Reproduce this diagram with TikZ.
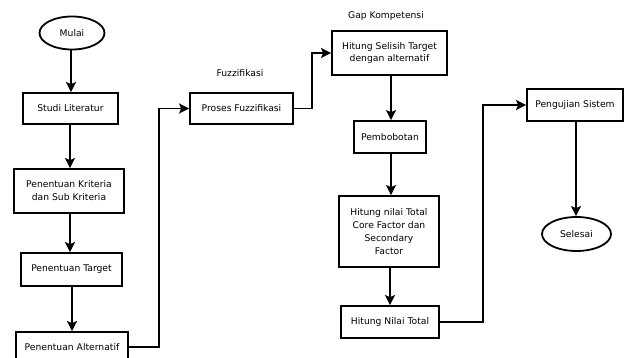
\documentclass[tikz,border=0pt]{standalone}
\usepackage{fontspec}
\setmainfont{DejaVu Sans}
\usetikzlibrary{shapes.geometric,arrows.meta,calc}
\begin{document}
\begin{tikzpicture}[x=1pt,y=-1pt,
  every node/.style={font=\fontsize{9.2}{12.9}\selectfont, align=center, inner sep=0pt},
  box/.style={draw, line width=1.8pt, rectangle},
  oval/.style={draw, line width=1.8pt, ellipse},
  arr/.style={line width=1.8pt, -{Stealth[length=10pt,width=10pt,inset=2pt]}}]
\clip (0,0) rectangle (624,358);
\useasboundingbox (0,0) rectangle (624,358);
\fill[white] (0,0) rectangle (624,358);
% left column
\node[oval, minimum width=65pt, minimum height=33pt] (mulai) at (72,33) {Mulai};
\node[box, minimum width=95pt, minimum height=31pt] (studi) at (70.5,108.5) {Studi Literatur};
\node[box, minimum width=110pt, minimum height=44pt] (kriteria) at (69,191) {Penentuan Kriteria\\dan Sub Kriteria};
\node[box, minimum width=101pt, minimum height=33pt] (target) at (71.5,269.5) {Penentuan Target};
\node[box, minimum width=112pt, minimum height=30pt] (alternatif) at (72,347) {Penentuan Alternatif};
% middle
\node (lfuzz) at (240,73) {Fuzzifikasi};
\node[box, minimum width=103pt, minimum height=31pt] (proses) at (241.5,108.5) {Proses Fuzzifikasi};
\node (lgap) at (386,16) {Gap Kompetensi};
\node[box, minimum width=115pt, minimum height=44pt] (selisih) at (389.5,53) {Hitung Selisih Target\\dengan alternatif};
\node[box, minimum width=72pt, minimum height=32pt] (bobot) at (390,137) {Pembobotan};
\node[box, minimum width=100pt, minimum height=71pt] (hnt) at (389,231.5) {Hitung nilai Total\\Core Factor dan\\Secondary\\Factor};
\node[box, minimum width=98pt, minimum height=32pt] (total) at (390,322) {Hitung Nilai Total};
% right
\node[box, minimum width=96pt, minimum height=32pt] (uji) at (575,105) {Pengujian Sistem};
\node[oval, minimum width=69pt, minimum height=34pt] (selesai) at (576.5,234) {Selesai};
% elbow x positions
\coordinate (c1) at (159,0);
\coordinate (c2) at (312,0);
\coordinate (c3) at (483,0);
% connectors
\draw[arr] (mulai.south -| 71,0) -- (71,0 |- studi.north);
\draw[arr] (studi.south -| 70,0) -- (70,0 |- kriteria.north);
\draw[arr] (kriteria.south -| 70,0) -- (70,0 |- target.north);
\draw[arr] (target.south -| 72,0) -- (72,0 |- alternatif.north);
\draw[arr] (alternatif.east) -- (alternatif.east -| c1) |- (proses.west);
\draw[arr] (proses.east) -- (proses.east -| c2) |- (selisih.west);
\draw[arr] (selisih.south -| 391,0) -- (391,0 |- bobot.north);
\draw[arr] (bobot.south -| 391,0) -- (391,0 |- hnt.north);
\draw[arr] (hnt.south -| 390,0) -- (390,0 |- total.north);
\draw[arr] (total.east) -- (total.east -| c3) |- (uji.west);
\draw[arr] (uji.south -| 576,0) -- (576,0 |- selesai.north);
\end{tikzpicture}
\end{document}
